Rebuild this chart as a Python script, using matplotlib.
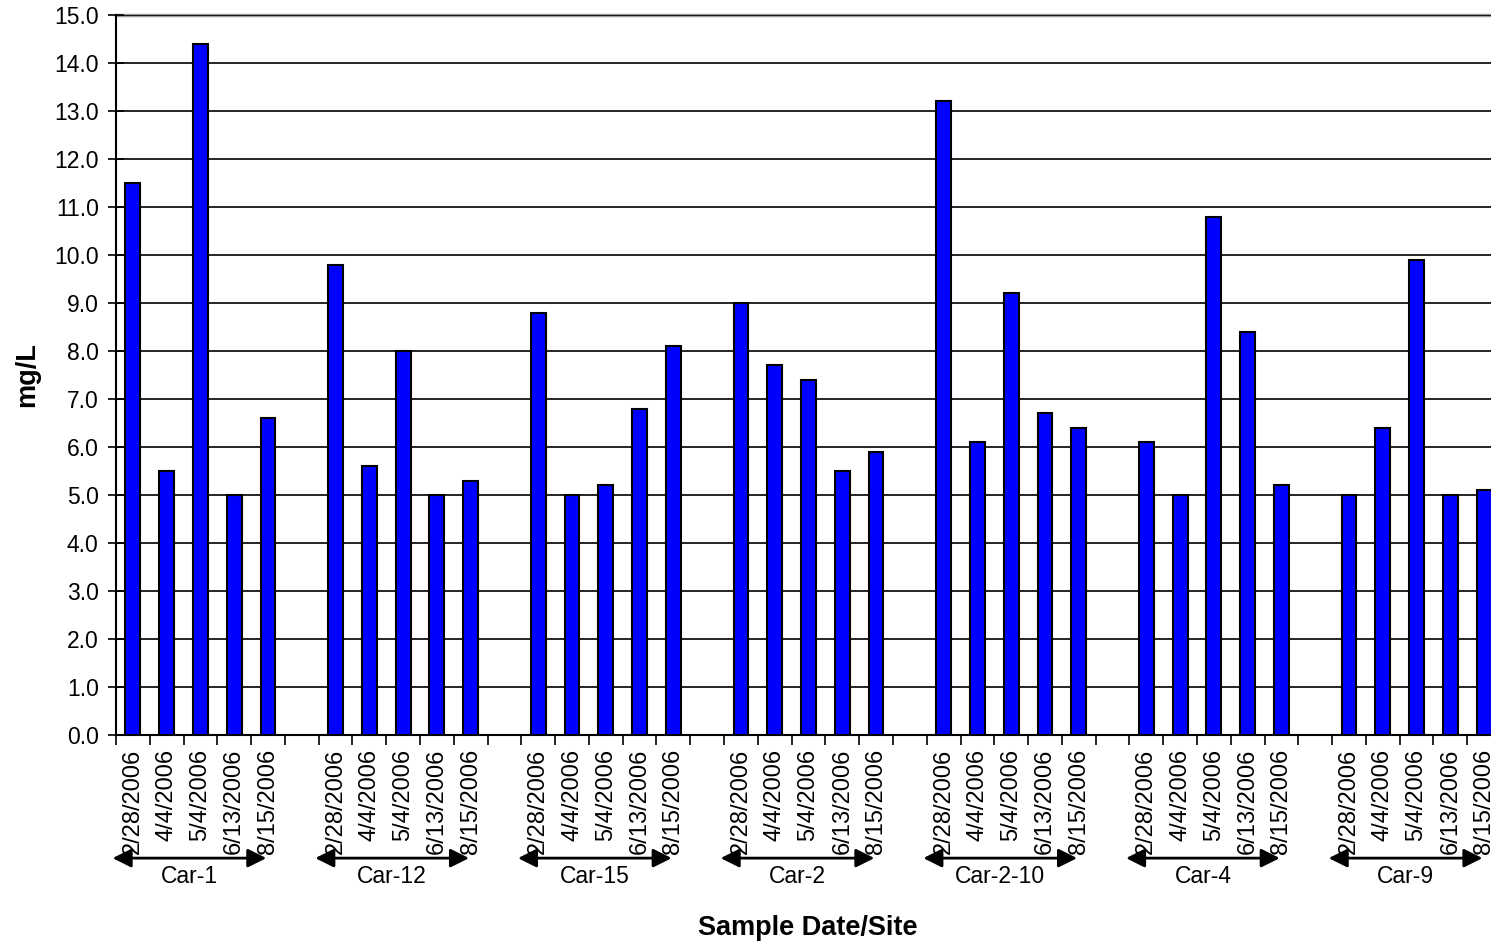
import numpy as np
import matplotlib.pyplot as plt

plt.rcParams['font.family'] = ['Liberation Sans', 'DejaVu Sans']

sites = ['Car-1', 'Car-12', 'Car-15', 'Car-2', 'Car-2-10', 'Car-4', 'Car-9']
dates = ['2/28/2006', '4/4/2006', '5/4/2006', '6/13/2006', '8/15/2006']
values = {
    'Car-1':    [11.5, 5.5, 14.4, 5.0, 6.6],
    'Car-12':   [9.8, 5.6, 8.0, 5.0, 5.3],
    'Car-15':   [8.8, 5.0, 5.2, 6.8, 8.1],
    'Car-2':    [9.0, 7.7, 7.4, 5.5, 5.9],
    'Car-2-10': [13.2, 6.1, 9.2, 6.7, 6.4],
    'Car-4':    [6.1, 5.0, 10.8, 8.4, 5.2],
    'Car-9':    [5.0, 6.4, 9.9, 5.0, 5.1],
}

# one empty slot between sites
n_dates = len(dates)
step = n_dates + 1
n_slots = len(sites) * step - 1

fig = plt.figure(figsize=(14.91, 9.47), dpi=100)
ax = fig.add_axes([116 / 1491, 1 - 735 / 947, (1501 - 116) / 1491, 720 / 947])

xpos, heights, labels = [], [], [''] * n_slots
for g, site in enumerate(sites):
    for i, d in enumerate(dates):
        k = g * step + i
        xpos.append(k)
        heights.append(values[site][i])
        labels[k] = d

ax.bar(xpos, heights, width=0.44, color='#0000FF', edgecolor='black',
       linewidth=1.5, zorder=3)

ax.set_xlim(-0.5, n_slots - 0.5)
ax.set_ylim(0, 15)
yt = np.arange(0, 15.1, 1.0)
ax.set_yticks(yt)
ax.set_yticklabels(['%.1f' % v for v in yt], fontsize=16.5)
ax.yaxis.grid(True, color='black', linewidth=1.2, zorder=0)
ax.axhline(15, color='#999999', linewidth=2.5, zorder=1, clip_on=False)

ax.set_xticks(np.arange(n_slots))
ax.set_xticklabels(labels, rotation=90, fontsize=17)
ax.set_xticks(np.arange(n_slots + 1) - 0.5, minor=True)
ax.tick_params(axis='x', which='major', length=0, pad=10)
ax.tick_params(axis='x', which='minor', length=7, width=1.2, direction='out')
ax.tick_params(axis='y', direction='inout', length=11, width=1.2, pad=7)

for s in ['top', 'right']:
    ax.spines[s].set_visible(False)
for s in ['left', 'bottom']:
    ax.spines[s].set_linewidth(1.5)

trans = ax.get_xaxis_transform()
for g, site in enumerate(sites):
    start = g * step - 0.5
    x0, x1 = start - 0.1, start + n_dates - 0.55
    ax.annotate('', xy=(x0, -0.171), xytext=(x1, -0.171), xycoords=trans,
                textcoords=trans, annotation_clip=False,
                arrowprops=dict(arrowstyle='<|-|>', color='black', lw=2,
                                mutation_scale=28, shrinkA=0, shrinkB=0))
    ax.text((x0 + x1) / 2, -0.197, site, transform=trans, ha='center',
            va='center', fontsize=16.5)

ax.set_ylabel('mg/L', fontsize=19.5, fontweight='bold', labelpad=10)
fig.text(808 / 1491, 1 - 928 / 947, 'Sample Date/Site', ha='center',
         va='center', fontsize=19.5, fontweight='bold')

fig.savefig('out.png', dpi=100)
